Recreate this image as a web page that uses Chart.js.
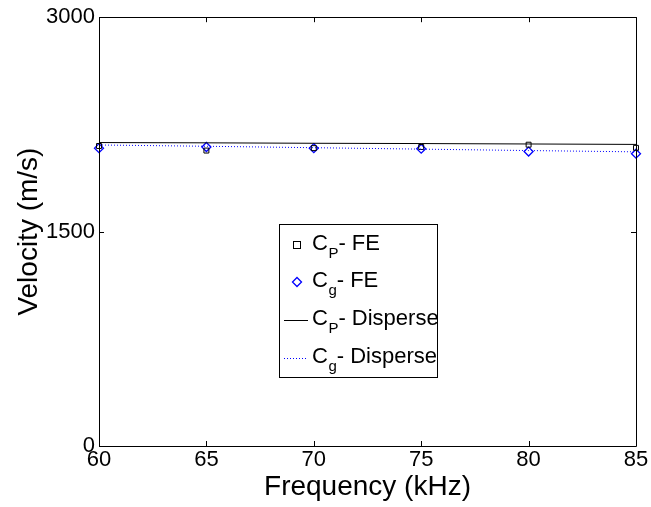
<!DOCTYPE html>
<html>
<head>
<meta charset="utf-8">
<script src="https://cdn.jsdelivr.net/npm/chart.js@4.4.1/dist/chart.umd.min.js"></script>
<style>
  html, body { margin: 0; padding: 0; background: #fff; }
  #wrap { position: relative; width: 651px; height: 507px; }
</style>
</head>
<body>
<div id="wrap"><canvas id="c" width="651" height="507"></canvas></div>
<script>
// ---- data ----
const frequency = [60, 65, 70, 75, 80, 85];            // kHz
const cpFE      = [2099, 2067, 2084, 2092, 2108, 2086]; // C_P - FE (squares)
const cgFE      = [2084, 2092, 2084, 2080, 2060, 2045]; // C_g - FE (diamonds)
const cpDisp    = [2123, 2121, 2118, 2116, 2113, 2110]; // C_P - Disperse (solid)
const cgDisp    = [2106, 2097, 2087, 2077, 2067, 2058]; // C_g - Disperse (dotted)
const xTicks    = [60, 65, 70, 75, 80, 85];
const yTicks    = [0, 1500, 3000];
const xTitle    = 'Frequency (kHz)';
const yTitle    = 'Velocity (m/s)';
const legendItems = [
  { main: 'C', sub: 'P', rest: '- FE' },
  { main: 'C', sub: 'g', rest: '- FE' },
  { main: 'C', sub: 'P', rest: '- Disperse' },
  { main: 'C', sub: 'g', rest: '- Disperse' }
];

const FONT = 'Arial, "Liberation Sans", Helvetica, sans-serif';
const BLUE = 'rgb(0,0,255)';
const pts = (ys) => frequency.map((x, i) => ({ x: x, y: ys[i] }));

const boxTicks = {
  id: 'boxTicks',
  afterDatasetsDraw(chart) {
    const { ctx, chartArea: a, scales } = chart;
    const xs = scales.x, ys = scales.y;
    ctx.save();
    ctx.strokeStyle = '#000';
    ctx.lineWidth = 1;
    ctx.beginPath();
    ctx.rect(Math.round(a.left) + 0.5, Math.round(a.top) + 0.5,
             Math.round(a.right - a.left), Math.round(a.bottom - a.top));
    ctx.stroke();
    const L = 5;
    ctx.beginPath();
    xTicks.forEach(v => {
      const px = Math.round(xs.getPixelForValue(v)) + 0.5;
      ctx.moveTo(px, a.bottom); ctx.lineTo(px, a.bottom - L);
      ctx.moveTo(px, a.top); ctx.lineTo(px, a.top + L);
    });
    yTicks.forEach(v => {
      const py = Math.round(ys.getPixelForValue(v)) + 0.5;
      ctx.moveTo(a.left, py); ctx.lineTo(a.left + L, py);
      ctx.moveTo(a.right, py); ctx.lineTo(a.right - L, py);
    });
    ctx.stroke();
    ctx.restore();
  },
  afterDraw(chart) {
    const { ctx, chartArea: a } = chart;
    ctx.save();
    ctx.fillStyle = '#000';
    ctx.font = '28px ' + FONT;
    ctx.textAlign = 'center';
    ctx.textBaseline = 'alphabetic';
    ctx.fillText(xTitle, (a.left + a.right) / 2, 495);
    ctx.translate(37, (a.top + a.bottom) / 2);
    ctx.rotate(-Math.PI / 2);
    ctx.fillText(yTitle, 0, 0);
    ctx.restore();

    // legend
    const lx = 279, ly = 224, lw = 158, lh = 153;
    ctx.save();
    ctx.fillStyle = '#fff';
    ctx.fillRect(lx, ly, lw, lh);
    ctx.strokeStyle = '#000';
    ctx.lineWidth = 1;
    ctx.strokeRect(lx + 0.5, ly + 0.5, lw, lh);
    const baselines = [250, 287, 325, 363];
    const tx = 312;
    legendItems.forEach((it, i) => {
      const b = baselines[i];
      ctx.fillStyle = '#000';
      ctx.textAlign = 'left';
      ctx.textBaseline = 'alphabetic';
      ctx.font = '22px ' + FONT;
      ctx.fillText(it.main, tx, b);
      let x = tx + ctx.measureText(it.main).width;
      ctx.font = '15px ' + FONT;
      ctx.fillText(it.sub, x + 0.5, b + 8);
      x += ctx.measureText(it.sub).width + 0.5;
      ctx.font = '22px ' + FONT;
      ctx.fillText(it.rest, x, b);
      // symbols
      const cy = b - 5;
      ctx.lineWidth = 1;
      if (i === 0) {
        ctx.strokeStyle = '#000';
        ctx.strokeRect(293.5, cy - 3.5, 7, 7);
      } else if (i === 1) {
        ctx.strokeStyle = BLUE;
        ctx.lineWidth = 1.3;
        ctx.beginPath();
        ctx.moveTo(297, cy - 4.5); ctx.lineTo(301.5, cy); ctx.lineTo(297, cy + 4.5); ctx.lineTo(292.5, cy);
        ctx.closePath(); ctx.stroke();
      } else if (i === 2) {
        ctx.strokeStyle = '#000';
        ctx.beginPath(); ctx.moveTo(284, b - 4.5); ctx.lineTo(308, b - 4.5); ctx.stroke();
      } else {
        ctx.strokeStyle = BLUE;
        ctx.setLineDash([1, 2]);
        ctx.beginPath(); ctx.moveTo(284, b - 4.5); ctx.lineTo(308, b - 4.5); ctx.stroke();
        ctx.setLineDash([]);
      }
    });
    ctx.restore();
  }
};

new Chart(document.getElementById('c'), {
  type: 'scatter',
  data: {
    datasets: [
      { label: 'Cp Disperse', data: pts(cpDisp), showLine: true, borderColor: '#000', borderWidth: 1,
        pointRadius: 0, fill: false, clip: false },
      { label: 'Cg Disperse', data: pts(cgDisp), showLine: true, borderColor: BLUE, borderWidth: 1,
        borderDash: [1, 2], pointRadius: 0, fill: false, clip: false },
      { label: 'Cp FE', data: pts(cpFE), showLine: false, pointStyle: 'rect', pointRadius: 3.5,
        borderColor: '#000', backgroundColor: 'rgba(0,0,0,0)', borderWidth: 1, clip: false },
      { label: 'Cg FE', data: pts(cgFE), showLine: false, pointStyle: 'rectRot', pointRadius: 4.5,
        borderColor: BLUE, backgroundColor: 'rgba(0,0,0,0)', borderWidth: 1.3, clip: false }
    ]
  },
  options: {
    responsive: false,
    animation: false,
    devicePixelRatio: 1,
    layout: { padding: { left: 0, right: 15, top: 15, bottom: 0 } },
    plugins: { legend: { display: false }, tooltip: { enabled: false } },
    scales: {
      x: {
        type: 'linear', min: 60, max: 85,
        afterBuildTicks: (s) => { s.ticks = xTicks.map(v => ({ value: v })); },
        afterFit: (s) => { s.height = 61; },
        grid: { display: false, drawTicks: false },
        border: { display: false },
        ticks: { color: '#000', font: { size: 22, family: FONT }, padding: 1, maxRotation: 0,
                 autoSkip: false, callback: (v) => String(v) }
      },
      y: {
        type: 'linear', min: 0, max: 3000,
        afterBuildTicks: (s) => { s.ticks = yTicks.map(v => ({ value: v })); },
        afterFit: (s) => { s.width = 99; },
        grid: { display: false, drawTicks: false },
        border: { display: false },
        ticks: { color: '#000', font: { size: 22, family: FONT }, padding: 4,
                 callback: (v) => String(v) }
      }
    }
  },
  plugins: [boxTicks]
});
</script>
</body>
</html>
